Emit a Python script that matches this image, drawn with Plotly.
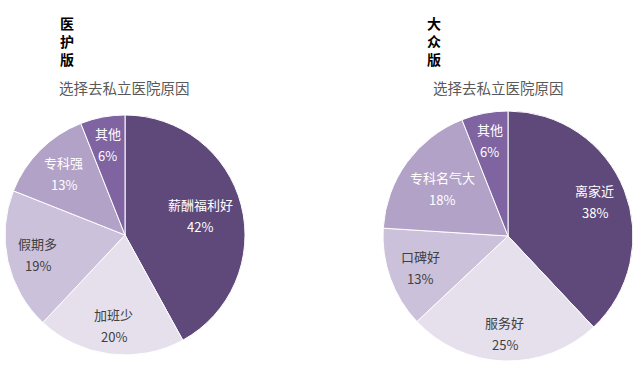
import math
import plotly.graph_objects as go

left_labels = ["薪酬福利好", "加班少", "假期多", "专科强", "其他"]
left_values = [42, 20, 19, 13, 6]
right_labels = ["离家近", "服务好", "口碑好", "专科名气大", "其他"]
right_values = [38, 25, 13, 18, 6]

colors = ["#5F497A", "#E5E0EC", "#CCC1DA", "#B3A2C7", "#8064A2"]
text_colors = ["#FFFFFF", "#404040", "#404040", "#FFFFFF", "#FFFFFF"]
font_family = "Noto Sans CJK SC, Microsoft YaHei, sans-serif"

W, H = 640, 368
FS = 13
left_domain = dict(x=[5/W, 245/W], y=[1-355/H, 1-115/H])
right_domain = dict(x=[383/W, 633/W], y=[1-361/H, 1-111/H])

fig = go.Figure()


def add_pie(labels, values, domain):
    fig.add_trace(go.Pie(
        labels=labels, values=values, textinfo="none",
        sort=False, direction="clockwise", rotation=0,
        marker=dict(colors=colors, line=dict(color="#FFFFFF", width=1)),
        domain=domain, showlegend=False, hoverinfo="label+percent",
    ))
    # data labels placed along each slice's bisector (derived from the values),
    # pulled inward until the label box fits inside the circle ("best fit")
    cx = (domain["x"][0] + domain["x"][1]) / 2 * W
    cy = (1 - (domain["y"][0] + domain["y"][1]) / 2) * H
    r = (domain["x"][1] - domain["x"][0]) * W / 2
    total = sum(values)
    cum = 0
    for lab, val, tc in zip(labels, values, text_colors):
        mid = (cum + val / 2) / total * 2 * math.pi
        cum += val
        dx, dy = math.sin(mid), -math.cos(mid)
        bw, bh = FS * len(lab), 36
        d = 0.78 * r
        while d > 0:
            px, py = d * dx, d * dy
            cxn = abs(px) + bw / 2
            cyn = abs(py) + bh / 2
            if math.hypot(cxn, cyn) <= 0.95 * r:
                break
            d -= 1
        px, py = cx + d * dx, cy + d * dy
        for txt, shift in ((lab, 11), (f"{round(val / total * 100)}%", -11)):
            fig.add_annotation(text=txt, x=px / W, y=1 - py / H, xref="paper", yref="paper",
                               xanchor="center", yanchor="middle", yshift=shift, showarrow=False,
                               font=dict(size=FS, color=tc, family=font_family))


add_pie(left_labels, left_values, left_domain)
add_pie(right_labels, right_values, right_domain)

fig.add_annotation(text="<b>医<br>护<br>版</b>", x=58/W, y=1-11/H, xref="paper", yref="paper",
                   xanchor="left", yanchor="top", showarrow=False, align="left",
                   font=dict(size=14, color="#000000", family=font_family))
fig.add_annotation(text="<b>大<br>众<br>版</b>", x=425/W, y=1-11/H, xref="paper", yref="paper",
                   xanchor="left", yanchor="top", showarrow=False, align="left",
                   font=dict(size=14, color="#000000", family=font_family))
fig.add_annotation(text="选择去私立医院原因", x=57/W, y=1-87/H, xref="paper", yref="paper",
                   xanchor="left", yanchor="middle", showarrow=False,
                   font=dict(size=14.5, color="#595959", family=font_family))
fig.add_annotation(text="选择去私立医院原因", x=431/W, y=1-87/H, xref="paper", yref="paper",
                   xanchor="left", yanchor="middle", showarrow=False,
                   font=dict(size=14.5, color="#595959", family=font_family))

fig.update_layout(width=W, height=H, margin=dict(l=0, r=0, t=0, b=0),
                  paper_bgcolor="#FFFFFF", plot_bgcolor="#FFFFFF")
fig.write_html("out.html", config={"displayModeBar": False},
               post_script="document.body.style.margin='0';")
